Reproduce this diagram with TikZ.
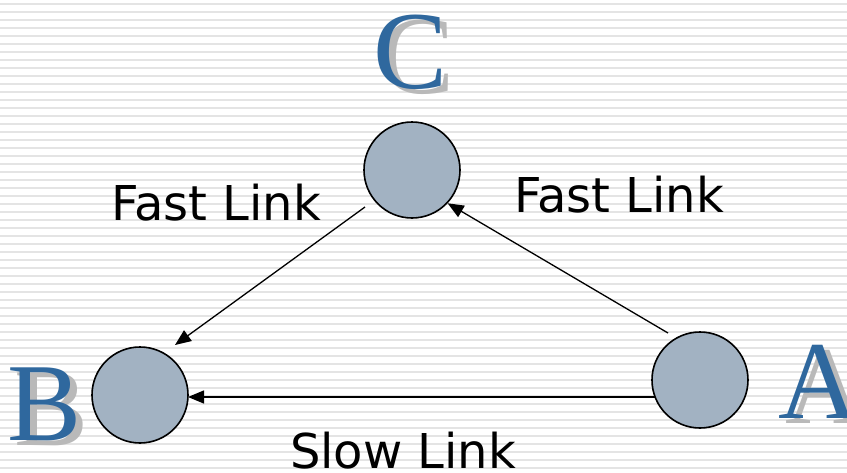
\documentclass[tikz,border=0pt]{standalone}
\usepackage{fontspec}
\setmainfont{Liberation Serif}
\newfontfamily\labelfont{DejaVu Sans}
\usetikzlibrary{arrows.meta}
\definecolor{stripe}{RGB}{228,228,228}
\definecolor{nodefill}{RGB}{162,178,194}
\definecolor{letterblue}{RGB}{47,104,158}
\definecolor{shadowgray}{RGB}{185,185,185}
\begin{document}
\begin{tikzpicture}[x=1pt,y=-1pt,
  station/.style={circle,draw=black,line width=1.6pt,fill=nodefill,minimum size=96pt,inner sep=0pt},
  bigletter/.style={anchor=base,inner sep=0pt,text=letterblue,font=\fontsize{111}{111}\selectfont},
  lettershadow/.style={anchor=base,inner sep=0pt,text=shadowgray,font=\fontsize{111}{111}\selectfont},
  linklabel/.style={anchor=base,inner sep=0pt,font=\labelfont\fontsize{48}{48}\selectfont},
  link/.style={line width=1.3pt,-{Triangle[length=16pt,width=13pt]}}]
\useasboundingbox (0,0) rectangle (847,472);
\fill[white] (0,0) rectangle (847,472);
\foreach \yy in {0,...,58}{
  \draw[stripe,line width=2pt] (0,3.5+8*\yy) -- (847,3.5+8*\yy);
}
% letters with shadows
\node[lettershadow] (cs) at (418,93) {C};
\node[bigletter] (cl) at (411,88) {C};
\node[lettershadow] (bs) at (52,445) {B};
\node[bigletter] (bl) at (45,440) {B};
\node[lettershadow] (as) at (826,423) {A};
\node[bigletter] (al) at (819,418) {A};
% stations
\node[station] (C) at (412,170) {};
\node[station] (B) at (140,395) {};
\node[station] (A) at (700,380) {};
% links
\coordinate (cbs) at (365,207);
\coordinate (cbe) at (175,345);
\draw[link] (cbs) -- (cbe);
\coordinate (acs) at (668,333);
\draw[link] (acs) -- (C.-43);
\coordinate (abs) at (655,397);
\coordinate (abe) at (188,397);
\draw[link] (abs) -- (abe);
% labels
\node[linklabel] (lf) at (216,220) {Fast Link};
\node[linklabel] (rf) at (619,212) {Fast Link};
\node[linklabel] (sl) at (403,468) {Slow Link};
\end{tikzpicture}
\end{document}
